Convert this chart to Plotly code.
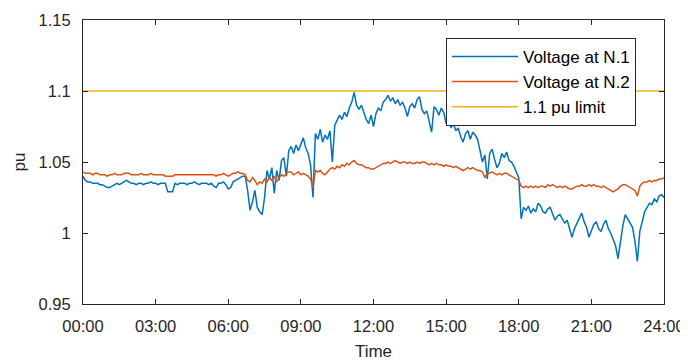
import plotly.graph_objects as go

# sample times in hours (6-minute grid)
hours = [i / 10 for i in range(241)]

voltage_n1 = [
    1.040, 1.037, 1.036, 1.036, 1.035, 1.035, 1.035, 1.034, 1.034, 1.033,
    1.032, 1.032, 1.033, 1.034, 1.035, 1.034, 1.035, 1.036, 1.037, 1.036,
    1.035, 1.035, 1.034, 1.035, 1.035, 1.034, 1.035, 1.035, 1.036, 1.035,
    1.035, 1.034, 1.035, 1.035, 1.035, 1.029, 1.029, 1.029, 1.035, 1.034,
    1.035, 1.035, 1.035, 1.034, 1.035, 1.035, 1.036, 1.035, 1.034, 1.035,
    1.035, 1.035, 1.034, 1.035, 1.033, 1.032, 1.035, 1.035, 1.036, 1.034,
    1.031, 1.032, 1.036, 1.037, 1.038, 1.039, 1.040, 1.040, 1.030, 1.016,
    1.022, 1.030, 1.018, 1.015, 1.013, 1.025, 1.044, 1.038, 1.046, 1.028,
    1.044, 1.037, 1.051, 1.053, 1.040, 1.058, 1.061, 1.056, 1.062, 1.058,
    1.063, 1.067, 1.060, 1.056, 1.048, 1.025, 1.070, 1.066, 1.073, 1.064,
    1.069, 1.066, 1.072, 1.050, 1.076, 1.079, 1.083, 1.080, 1.085, 1.082,
    1.088, 1.092, 1.099, 1.090, 1.087, 1.090, 1.085, 1.080, 1.077, 1.083,
    1.075, 1.084, 1.088, 1.086, 1.092, 1.094, 1.097, 1.093, 1.095, 1.091,
    1.094, 1.090, 1.092, 1.088, 1.082, 1.089, 1.091, 1.088, 1.094, 1.096,
    1.087, 1.084, 1.086, 1.078, 1.071, 1.089, 1.087, 1.083, 1.088, 1.085,
    1.077, 1.080, 1.074, 1.077, 1.072, 1.074, 1.068, 1.064, 1.070, 1.072,
    1.066, 1.071, 1.069, 1.066, 1.058, 1.050, 1.055, 1.038, 1.056, 1.059,
    1.052, 1.046, 1.049, 1.056, 1.053, 1.057, 1.051, 1.050, 1.047, 1.043,
    1.039, 1.010, 1.018, 1.016, 1.019, 1.014, 1.017, 1.015, 1.021, 1.019,
    1.015, 1.014, 1.017, 1.018, 1.013, 1.009, 1.012, 1.013, 1.010, 1.007,
    1.009, 1.003, 0.997, 1.003, 1.007, 1.011, 1.014, 1.008, 1.004, 0.997,
    1.002, 1.006, 1.008, 1.003, 1.001, 1.006, 1.009, 1.003, 1.000, 0.995,
    0.991, 0.982, 0.994, 1.005, 1.013, 1.010, 1.008, 1.004, 0.994, 0.980,
    1.001, 1.008, 1.015, 1.018, 1.021, 1.020, 1.024, 1.022, 1.026, 1.027,
    1.025,
]

voltage_n2 = [
    1.043, 1.042, 1.042, 1.042, 1.041, 1.042, 1.042, 1.041, 1.041, 1.041,
    1.040, 1.041, 1.041, 1.042, 1.041, 1.041, 1.041, 1.042, 1.042, 1.042,
    1.041, 1.041, 1.041, 1.041, 1.042, 1.041, 1.041, 1.041, 1.042, 1.041,
    1.041, 1.041, 1.041, 1.041, 1.040, 1.040, 1.040, 1.040, 1.041, 1.041,
    1.041, 1.041, 1.041, 1.041, 1.041, 1.041, 1.041, 1.041, 1.041, 1.041,
    1.041, 1.041, 1.041, 1.041, 1.041, 1.040, 1.041, 1.041, 1.042, 1.041,
    1.040, 1.041, 1.042, 1.042, 1.043, 1.042, 1.042, 1.041, 1.037, 1.036,
    1.039, 1.037, 1.034, 1.036, 1.035, 1.038, 1.036, 1.039, 1.037, 1.040,
    1.036, 1.039, 1.041, 1.040, 1.042, 1.043, 1.043, 1.041, 1.042, 1.043,
    1.041, 1.042, 1.041, 1.040, 1.038, 1.032, 1.044, 1.043, 1.044, 1.042,
    1.041, 1.043, 1.045, 1.046, 1.045, 1.047, 1.046, 1.048, 1.047, 1.049,
    1.048, 1.050, 1.051, 1.049, 1.048, 1.048, 1.047, 1.046, 1.046, 1.045,
    1.045, 1.046, 1.047, 1.048, 1.049, 1.049, 1.050, 1.049, 1.050, 1.051,
    1.050, 1.049, 1.050, 1.050, 1.049, 1.050, 1.049, 1.049, 1.050, 1.049,
    1.050, 1.050, 1.049, 1.048, 1.049, 1.048, 1.049, 1.048, 1.048, 1.047,
    1.048, 1.047, 1.047, 1.046, 1.047, 1.046, 1.045, 1.044, 1.045, 1.046,
    1.045, 1.046, 1.045, 1.044, 1.044, 1.043, 1.039, 1.042, 1.042, 1.043,
    1.042, 1.041, 1.042, 1.041, 1.042, 1.042, 1.041, 1.040, 1.039, 1.038,
    1.037, 1.033, 1.032, 1.033, 1.032, 1.033, 1.032, 1.033, 1.032, 1.033,
    1.033, 1.032, 1.034, 1.033, 1.034, 1.033, 1.032, 1.033, 1.032, 1.033,
    1.032, 1.031, 1.031, 1.032, 1.033, 1.033, 1.034, 1.033, 1.033, 1.034,
    1.033, 1.034, 1.033, 1.033, 1.032, 1.033, 1.032, 1.031, 1.030, 1.029,
    1.030, 1.031, 1.033, 1.034, 1.034, 1.033, 1.032, 1.031, 1.030, 1.026,
    1.033, 1.035, 1.036, 1.036, 1.037, 1.036, 1.037, 1.037, 1.038, 1.038,
    1.039,
]

limit_value = 1.1
limit_hours = [0, 24]

x_tick_vals = [0, 3, 6, 9, 12, 15, 18, 21, 24]
x_tick_text = ["00:00", "03:00", "06:00", "09:00", "12:00", "15:00", "18:00", "21:00", "24:00"]
y_tick_vals = [0.95, 1.0, 1.05, 1.1, 1.15]
y_tick_text = ["0.95", "1", "1.05", "1.1", "1.15"]

FONT = "Liberation Sans, Arial, sans-serif"
AX = "#262626"
LW = 1.5

fig = go.Figure()
fig.add_trace(go.Scatter(x=hours, y=voltage_n1, mode="lines", name="Voltage at N.1",
                         line=dict(color="#0072BD", width=LW), legendgroup="a"))
fig.add_trace(go.Scatter(x=hours, y=voltage_n2, mode="lines", name="Voltage at N.2",
                         line=dict(color="#D95319", width=LW), legendgroup="b"))
fig.add_trace(go.Scatter(x=limit_hours, y=[limit_value] * len(limit_hours), mode="lines",
                         name="1.1 pu limit", line=dict(color="#EDB120", width=LW),
                         legendgroup="c"))

# the page body adds an 8px offset, so the figure is 680x353
fig.update_layout(
    width=680, height=353,
    margin=dict(l=75, r=24, t=12, b=57),
    paper_bgcolor="white", plot_bgcolor="white",
    font=dict(family=FONT, size=16.5, color=AX),
    showlegend=True,
    legend=dict(
        x=0.6248, xanchor="left", y=0.937, yanchor="top",
        bgcolor="white", bordercolor=AX, borderwidth=1,
        font=dict(family=FONT, size=17, color="black"),
        tracegroupgap=0, itemwidth=66,
    ),
)
fig.update_xaxes(
    range=[0, 24], tickvals=x_tick_vals, ticktext=x_tick_text, automargin=False,
    ticks="inside", ticklen=5, tickcolor=AX, showline=True, linecolor=AX, linewidth=1,
    mirror="ticks", showgrid=False, zeroline=False, ticklabelstandoff=7,
    title=dict(text="Time", standoff=20, font=dict(size=17)),
)
fig.update_yaxes(
    range=[0.95, 1.15], tickvals=y_tick_vals, ticktext=y_tick_text, automargin=False,
    ticks="inside", ticklen=5, tickcolor=AX, showline=True, linecolor=AX, linewidth=1,
    mirror="ticks", showgrid=False, zeroline=False, ticklabelstandoff=8,
    title=dict(text="pu", standoff=8, font=dict(size=17)),
)

fig.write_html("out.html")
